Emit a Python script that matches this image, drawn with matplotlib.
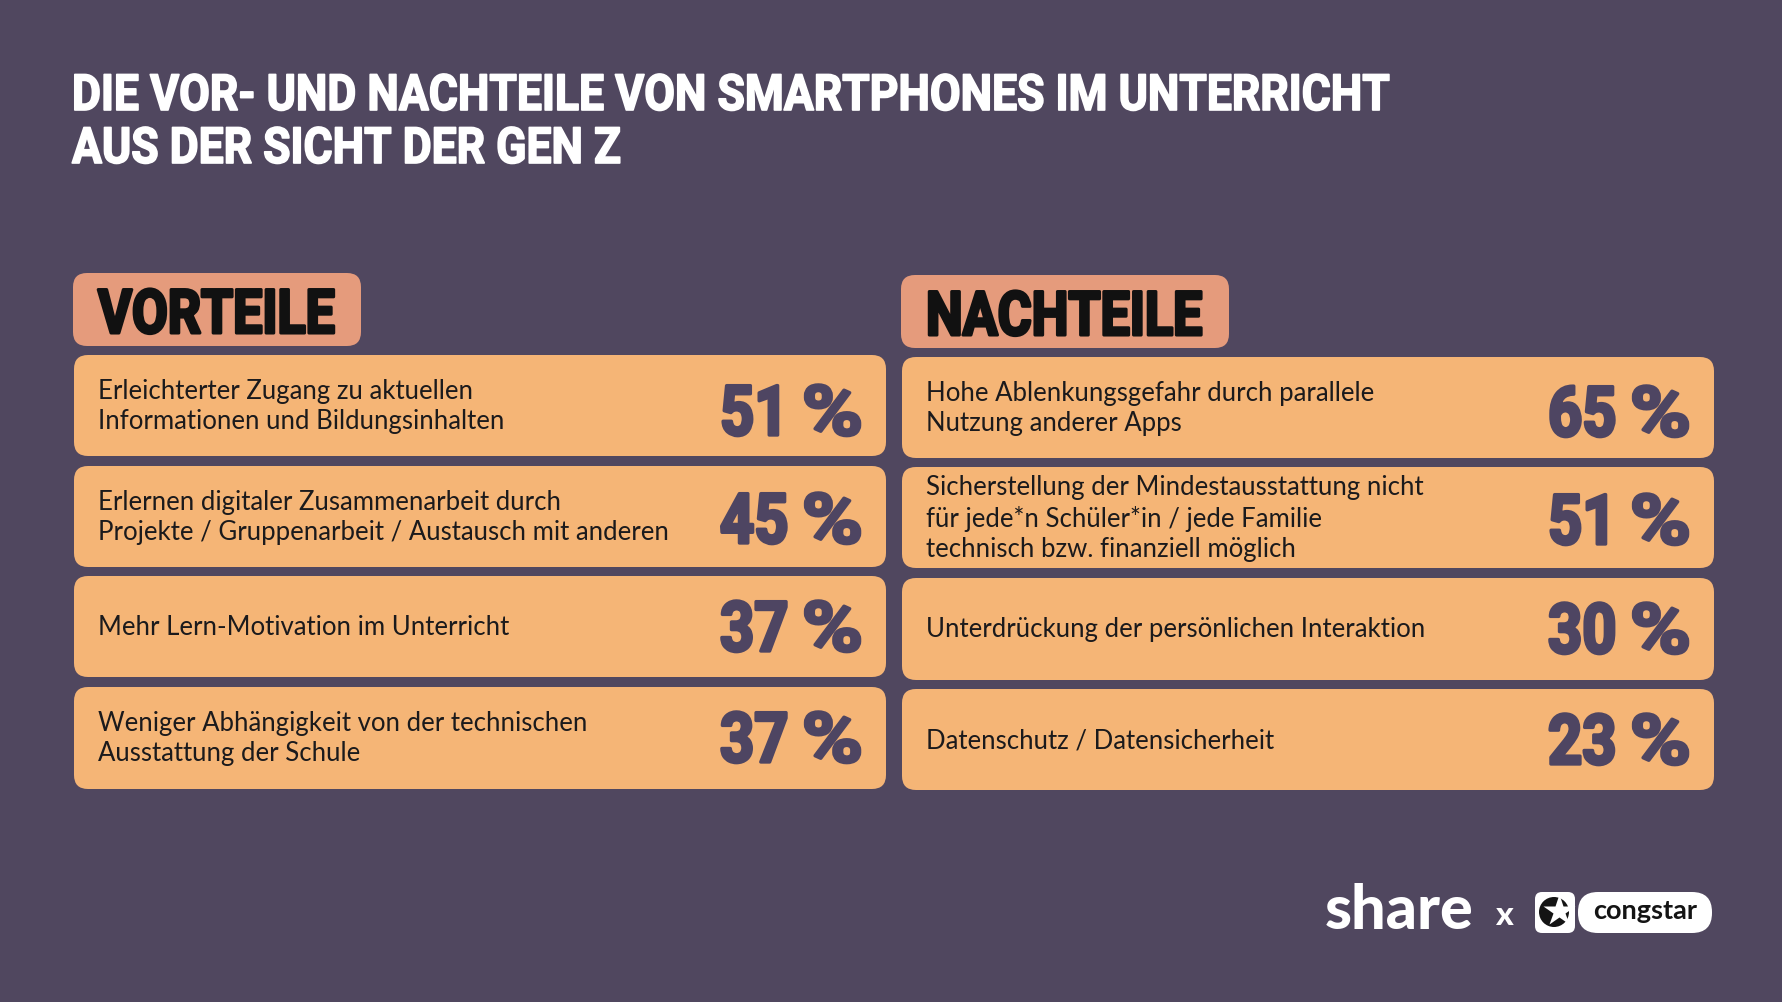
import matplotlib
matplotlib.use("Agg")
import matplotlib.pyplot as plt
from matplotlib.patches import FancyBboxPatch, Circle
from matplotlib.path import Path
from matplotlib.patheffects import AbstractPathEffect
from matplotlib.transforms import Affine2D
import numpy as np

title_lines = ["DIE VOR- UND NACHTEILE VON SMARTPHONES IM UNTERRICHT", "AUS DER SICHT DER GEN Z"]
pro_header = "VORTEILE"
con_header = "NACHTEILE"
pro_labels = ["Erleichterter Zugang zu aktuellen\nInformationen und Bildungsinhalten",
              "Erlernen digitaler Zusammenarbeit durch\nProjekte / Gruppenarbeit / Austausch mit anderen",
              "Mehr Lern-Motivation im Unterricht",
              "Weniger Abhängigkeit von der technischen\nAusstattung der Schule"]
pro_values = [51, 45, 37, 37]
con_labels = ["Hohe Ablenkungsgefahr durch parallele\nNutzung anderer Apps",
              "Sicherstellung der Mindestausstattung nicht\nfür jede*n Schüler*in / jede Familie\ntechnisch bzw. finanziell möglich",
              "Unterdrückung der persönlichen Interaktion",
              "Datenschutz / Datensicherheit"]
con_values = [65, 51, 30, 23]

BG = "#50475f"; CARD = "#f5b576"; HEAD = "#e59b7c"; DARK = "#4e4562"; INK = "#1b1a1c"
HEAVY = ["Roboto", "DejaVu Sans"]
BODY = ["Lato", "DejaVu Sans"]


class Condense(AbstractPathEffect):
    """Squeezes glyph outlines horizontally about the text origin and fattens them."""

    def __init__(self, sx, width, color):
        super().__init__()
        self.sx, self.width, self.color = sx, width, color

    def warp(self, tpath):
        return tpath, Affine2D().scale(self.sx, 1)

    def draw_path(self, renderer, gc, tpath, affine, rgbFace=None):
        gc0 = renderer.new_gc()
        gc0.copy_properties(gc)
        gc0.set_linewidth(self.width)
        gc0.set_foreground(self.color)
        p, tr = self.warp(tpath)
        renderer.draw_path(gc0, p, tr + affine, rgbFace)
        gc0.restore()


class CondensePercent(Condense):
    """Narrow digits, a wide percent sign (path units: 100 per em)."""

    def warp(self, tpath):
        v = np.array(tpath.vertices, dtype=float)
        x = v[:, 0]
        v[:, 0] = np.where(x <= 127, 0.86 * x, 118 + (x - 140) * 1.2)
        return Path(v, tpath.codes), Affine2D()


fig = plt.figure(figsize=(17.82, 10.02), dpi=100, facecolor=BG)
ax = fig.add_axes([0, 0, 1, 1])
ax.set_xlim(0, 1782); ax.set_ylim(1002, 0); ax.axis("off")


def rbox(x0, y0, x1, y1, r, color):
    ax.add_patch(FancyBboxPatch((x0 + r, y0 + r), x1 - x0 - 2 * r, y1 - y0 - 2 * r,
                                boxstyle=f"round,pad={r},rounding_size={r}",
                                fc=color, ec="none", mutation_aspect=1))


def heavy(x, y, s, size, color, effect):
    t = ax.text(x, y, s, fontsize=size, color=color, family=HEAVY, fontweight="bold",
                va="baseline", ha="left")
    t.set_path_effects([effect])
    return t


heavy(72, 110, title_lines[0], 36, "white", Condense(0.89, 1.2, "white"))
heavy(72, 163, title_lines[1], 36, "white", Condense(0.89, 1.2, "white"))


def column(x0, x1, head_box, head_txt, head_base, tops, bases, labels, values):
    rbox(head_box[0], head_box[1], head_box[2], head_box[3], 14, HEAD)
    heavy(x0 + 24, head_base, head_txt, 44, "#111111", Condense(0.85, 2.2, "#111111"))
    for (t, b), base, lab, v in zip(tops, bases, labels, values):
        rbox(x0, t, x1, b, 14, CARD)
        ax.text(x0 + 24, (t + b) / 2 + 1, lab, fontsize=18.5, color=INK, family=BODY,
                va="center", ha="left", linespacing=1.25)
        heavy(x0 + 646, base, f"{v} %", 50, DARK, CondensePercent(1, 2.4, DARK))


column(74, 886, (73, 273, 361, 346), pro_header, 333,
       [(355, 456), (466, 567), (576, 677), (687, 789)], [435, 543, 651, 762], pro_labels, pro_values)
column(902, 1714, (901, 275, 1229, 348), con_header, 335,
       [(357, 458), (467, 568), (578, 680), (689, 790)], [436, 544, 653, 764], con_labels, con_values)

# logos
ax.text(1325, 929, "share", fontsize=44, color="white", family=["Lato", "DejaVu Sans"],
        fontweight="black", va="baseline", ha="left")
ax.text(1504, 925, "x", fontsize=24, color="white", family=["Lato", "DejaVu Sans"],
        fontweight="black", va="baseline", ha="center")
rbox(1535, 892, 1575, 933, 7, "white")
ax.add_patch(Circle((1554, 912), 15, fc="#141414", ec="none"))
ax.plot([1559], [911], marker="*", ms=24, color="white", mec="none")
rbox(1578, 892, 1712, 933, 20, "white")
ax.text(1645, 911, "congstar", fontsize=19.5, color="#141414", family=["Lato", "DejaVu Sans"],
        fontweight="bold", va="center", ha="center")

fig.savefig("out.png", dpi=100, facecolor=BG)
